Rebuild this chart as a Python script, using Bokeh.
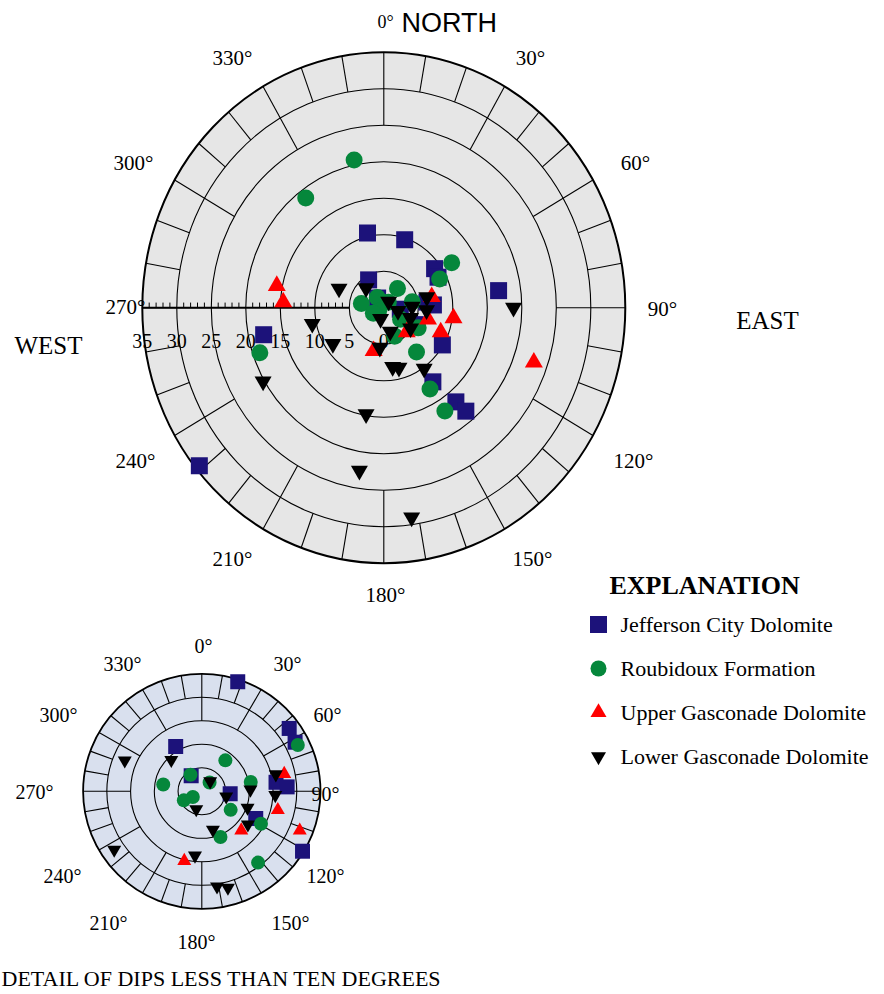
import numpy as np
from bokeh.plotting import figure
from bokeh.models import Range1d
from bokeh.core.properties import value
from bokeh.embed import file_html
from bokeh.resources import INLINE

# ---------------- data: dip direction (deg clockwise from north) and dip (deg)
series_names = ["Jefferson City Dolomite", "Roubidoux Formation",
                "Upper Gasconade Dolomite", "Lower Gasconade Dolomite"]

jefferson_az = [347, 18, 54, 62, 330, 326, 95, 83, 87, 117, 121, 82, 145, 141, 140, 258, 231]
jefferson_dip = [10.5, 9.8, 9.1, 8.9, 4.4, 1.6, 2.4, 6.3, 7.2, 5.1, 9.9, 16.8, 12.4, 16.6, 18.5, 17.8, 34.4]

roubidoux_az = [348, 323, 58, 64, 37, 326, 41, 280, 79, 237, 243, 123, 119, 158, 142, 149, 148, 251]
roubidoux_dip = [20.7, 18.8, 11.6, 9.0, 3.3, 1.7, 1.0, 3.3, 4.2, 0.9, 1.7, 2.9, 5.7, 4.2, 7.7, 13.0, 16.7, 19.0]

upper_gasc_az = [281, 273, 78, 104, 98, 112, 135, 194, 109]
upper_gasc_dip = [15.8, 14.6, 7.1, 6.6, 10.2, 8.9, 4.7, 6.1, 23.0]

lower_gasc_az = [292, 316, 40, 102, 88, 77, 93, 197, 164, 110, 126, 186, 171, 165, 145, 258, 236, 240, 190, 189, 172, 90]
lower_gasc_dip = [7.0, 3.7, 1.1, 2.1, 4.1, 6.4, 6.2, 1.6, 3.4, 4.1, 4.8, 5.5, 8.2, 8.5, 10.2, 10.6, 8.9, 20.2, 14.8, 22.6, 29.0, 18.8]

main_rings = [5, 10, 15, 20, 25, 30, 35]
main_scale_labels = ["35", "30", "25", "20", "15", "10", "5", "0"]
main_angle_labels = ["330°", "30°", "300°", "60°", "270°", "90°", "240°", "120°", "210°", "150°", "180°"]
inset_rings = [2, 4, 6, 8, 10]
inset_angle_labels = ["0°", "330°", "30°", "300°", "60°", "270°", "90°", "240°", "120°", "210°", "150°", "180°"]

# ---------------- styles
series_data = [(jefferson_az, jefferson_dip), (roubidoux_az, roubidoux_dip),
               (upper_gasc_az, upper_gasc_dip), (lower_gasc_az, lower_gasc_dip)]
markers = ["square", "circle", "triangle", "inverted_triangle"]
colors = ["#1c127a", "#05873b", "#ff0000", "#000000"]
main_sizes = [17, 17, 18, 17]
inset_sizes = [15, 14, 14, 14]
legend_sizes = [17, 16, 16, 15]

W, H = 884, 994
SERIF = value("Liberation Serif")
SANS = value("Liberation Sans")

# main polar diagram placement (pixels) and scale (pixels per degree of dip)
MCX, MCY, MSX, MSY = 383.3, 307.2, 6.9, 7.3
# inset placement
ICX, ICY, ISX, ISY = 201.3, 790.8, 11.87, 11.75

p = figure(width=W, height=H, output_backend="svg", toolbar_location=None,
           x_range=Range1d(-MCX / MSX, (W - MCX) / MSX),
           y_range=Range1d((MCY - H) / MSY, MCY / MSY),
           x_axis_type=None, y_axis_type=None, min_border=0,
           outline_line_color=None, background_fill_color="white",
           border_fill_color="white")
p.extra_x_ranges = {"ix": Range1d(-ICX / ISX, (W - ICX) / ISX), "px": Range1d(0, W)}
p.extra_y_ranges = {"iy": Range1d((ICY - H) / ISY, ICY / ISY), "py": Range1d(H, 0)}


def polar(az, dip):
    a = np.radians(np.asarray(az, dtype=float))
    d = np.asarray(dip, dtype=float)
    return d * np.sin(a), d * np.cos(a)


def draw_net(rings, fill, spoke_from, band_from, xr="default", yr="default", outer_w=2.0):
    R = rings[-1]
    kw = dict(x_range_name=xr, y_range_name=yr)
    p.ellipse(x=0, y=0, width=2 * R, height=2 * R, fill_color=fill,
              line_color=None, **kw)
    for r in rings[:-1]:
        p.ellipse(x=0, y=0, width=2 * r, height=2 * r, fill_color=None,
                  line_color="black", line_width=1.1, **kw)
    # spokes every 30 degrees
    sa = np.arange(0, 360, 30)
    x0, y0 = polar(sa, [spoke_from] * len(sa))
    x1, y1 = polar(sa, [R] * len(sa))
    p.segment(x0=x0, y0=y0, x1=x1, y1=y1, line_color="black", line_width=1.1, **kw)
    # 10-degree ticks in the outer band
    ta = np.array([a for a in range(0, 360, 10) if a % 30])
    x0, y0 = polar(ta, [band_from] * len(ta))
    x1, y1 = polar(ta, [R] * len(ta))
    p.segment(x0=x0, y0=y0, x1=x1, y1=y1, line_color="black", line_width=1.1, **kw)
    p.ellipse(x=0, y=0, width=2 * R, height=2 * R, fill_color=None,
              line_color="black", line_width=outer_w, **kw)


# ---------------- main net
draw_net(main_rings, "#e6e6e6", 25, 30)
# dip scale along the west radius
p.segment(x0=[-35], y0=[0], x1=[-5], y1=[0], line_color="black", line_width=2)
tick_vals = [t for t in range(5, 36) if t % 5]
p.segment(x0=[-t for t in tick_vals], y0=[0] * len(tick_vals),
          x1=[-t for t in tick_vals], y1=[0.7] * len(tick_vals),
          line_color="black", line_width=1)
scale_vals = [35, 30, 25, 20, 15, 10, 5, 0]
p.text(x=[-v for v in scale_vals], y=[-4.5] * len(scale_vals), text=main_scale_labels,
       text_font=SERIF, text_font_size="20px", text_align="center",
       text_baseline="middle", text_color="black")

# ---------------- inset net
draw_net(inset_rings, "#d9e0ee", 6, 8, "ix", "iy", outer_w=1.8)

# ---------------- points
for (az, dip), m, c, s1, s2 in zip(series_data, markers, colors, main_sizes, inset_sizes):
    x, y = polar(az, dip)
    p.scatter(x=x, y=y, marker=m, size=s1, fill_color=c, line_color=None)
    keep = np.asarray(dip) <= 10
    xi, yi = polar(np.asarray(az)[keep], np.asarray(dip)[keep])
    p.scatter(x=xi, y=yi, marker=m, size=s2, fill_color=c, line_color=None,
              x_range_name="ix", y_range_name="iy")

# ---------------- labels (pixel positions)
txt = dict(x_range_name="px", y_range_name="py", text_baseline="middle", text_color="black")
p.text(x=[385], y=[21], text=["0°"], text_font=SERIF, text_font_size="18px",
       text_align="center", **txt)
p.text(x=[401], y=[22], text=["NORTH"], text_font=SANS, text_font_size="27px",
       text_align="left", **txt)
mx = [232, 530, 133, 635, 125, 662, 135, 633, 232, 532, 385]
my = [57, 57, 162, 162, 306, 308, 460, 460, 558, 558, 594]
p.text(x=mx, y=my, text=main_angle_labels, text_font=SERIF, text_font_size="21px",
       text_align="center", **txt)
p.text(x=[767, 48], y=[320, 345], text=["EAST", "WEST"], text_font=SERIF,
       text_font_size="25px", text_align="center", **txt)

ix = [203, 122, 287, 58, 327, 34, 325, 62, 325, 108, 290, 196]
iy = [645, 663, 663, 714, 714, 791, 793, 875, 875, 922, 922, 941]
p.text(x=ix, y=iy, text=inset_angle_labels, text_font=SERIF, text_font_size="20px",
       text_align="center", **txt)
p.text(x=[1], y=[978], text=["DETAIL OF DIPS LESS THAN TEN DEGREES"], text_font=SERIF,
       text_font_size="22px", text_align="left", **txt)

# ---------------- explanation
p.text(x=[609], y=[585], text=["EXPLANATION"], text_font=SERIF, text_font_size="26px",
       text_font_style="bold", text_align="left", **txt)
ly = [624, 668, 712, 756]
for name, m, c, s, yy in zip(series_names, markers, colors, legend_sizes, ly):
    p.scatter(x=[598], y=[yy], marker=m, size=s, fill_color=c, line_color=None,
              x_range_name="px", y_range_name="py")
p.text(x=[620] * 4, y=ly, text=series_names, text_font=SERIF, text_font_size="22px",
       text_align="left", **txt)

open("out.html", "w").write(file_html(p, INLINE))
